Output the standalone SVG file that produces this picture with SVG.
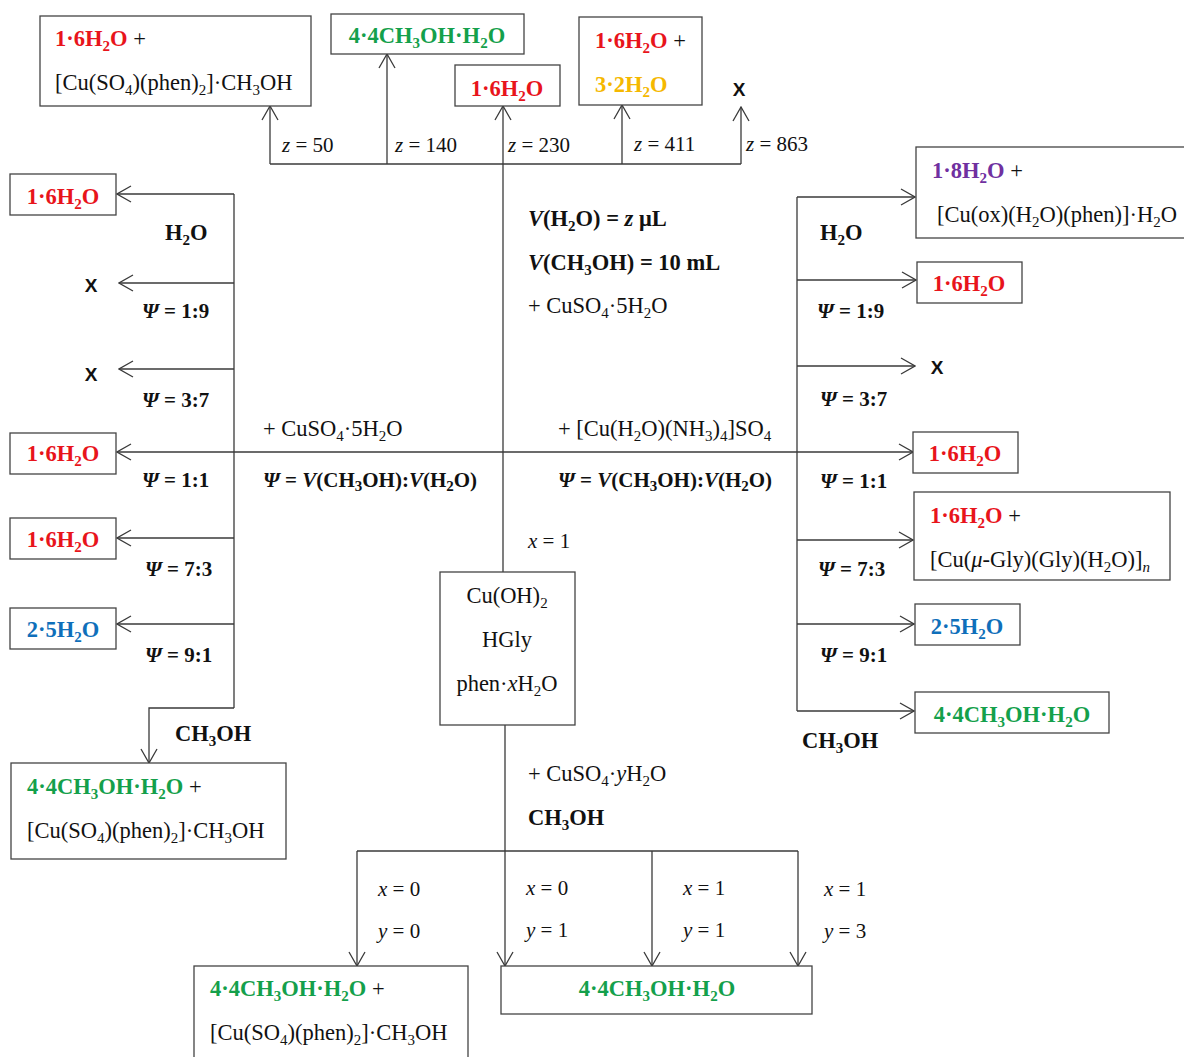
<svg xmlns="http://www.w3.org/2000/svg" width="1184" height="1057" viewBox="0 0 1184 1057">
<defs>
<style>
.t{font-family:"Liberation Serif","Times New Roman",serif;font-size:22.5px;fill:#111}
.l{font-size:21px}
.b{font-weight:bold}
.i{font-style:italic}
.r{fill:#e8141b}.g{fill:#14a04b}.bl{fill:#0f6fba}.p{fill:#7030a0}.y{fill:#f5b800}
.k{fill:#111;font-weight:normal}
.s{font-size:15px}
.x{font-family:"Liberation Sans",Arial,sans-serif;font-weight:bold;font-size:19px;fill:#111}
.m{text-anchor:middle}
.box{fill:#fff;stroke:#444;stroke-width:1.3}
.ln{fill:none;stroke:#3a3a3a;stroke-width:1.3}
.ar{fill:none;stroke:#3a3a3a;stroke-width:1.3;marker-end:url(#ah)}
</style>
<marker id="ah" viewBox="0 0 16 18" refX="15" refY="9" markerWidth="16" markerHeight="18" markerUnits="userSpaceOnUse" orient="auto">
<path d="M1,1 L15,9 L1,17" fill="none" stroke="#3a3a3a" stroke-width="1.3"/>
</marker>
</defs>
<rect width="1184" height="1057" fill="#fff"/>

<g id="connectors">
<path class="ln" d="M270,164 H741"/>
<path class="ar" d="M270,164 V106"/>
<path class="ar" d="M387,164 V54"/>
<path class="ar" d="M503,572 V106"/>
<path class="ar" d="M622,164 V105"/>
<path class="ar" d="M741,164 V107"/>
<path class="ar" d="M503,452 H117"/>
<path class="ar" d="M503,452 H913"/>
<path class="ln" d="M234,194 V708"/>
<path class="ar" d="M234,194 H117"/>
<path class="ar" d="M234,283 H119"/>
<path class="ar" d="M234,369 H119"/>
<path class="ar" d="M234,538 H117"/>
<path class="ar" d="M234,624 H117"/>
<path class="ar" d="M234,708 H149 V763"/>
<path class="ln" d="M797,197 V711"/>
<path class="ar" d="M797,197 H915"/>
<path class="ar" d="M797,280 H916"/>
<path class="ar" d="M797,366 H915"/>
<path class="ar" d="M797,540 H913"/>
<path class="ar" d="M797,624 H914"/>
<path class="ar" d="M797,711 H914"/>
<path class="ln" d="M505,725 V851"/>
<path class="ln" d="M357,851 H798"/>
<path class="ar" d="M357,851 V966"/>
<path class="ar" d="M505,851 V966"/>
<path class="ar" d="M652,851 V966"/>
<path class="ar" d="M798,851 V966"/>
</g>

<g id="top-z50">
<rect class="box" x="40" y="16" width="271" height="90"/>
<text class="t b r" x="55" y="46">1·6H<tspan class="s" dy="4.5">2</tspan><tspan dy="-4.5">O</tspan><tspan class="k"> +</tspan></text>
<text class="t" x="55" y="90">[Cu(SO<tspan class="s" dy="4.5">4</tspan><tspan dy="-4.5">)(phen)</tspan><tspan class="s" dy="4.5">2</tspan><tspan dy="-4.5">]·CH</tspan><tspan class="s" dy="4.5">3</tspan><tspan dy="-4.5">OH</tspan></text>
</g>
<g id="top-z140">
<rect class="box" x="331" y="14" width="193" height="40"/>
<text class="t b g m" x="427" y="43">4·4CH<tspan class="s" dy="4.5">3</tspan><tspan dy="-4.5">OH·H</tspan><tspan class="s" dy="4.5">2</tspan><tspan dy="-4.5">O</tspan></text>
</g>
<g id="top-z230">
<rect class="box" x="455" y="65" width="105" height="41"/>
<text class="t b r m" x="507" y="96">1·6H<tspan class="s" dy="4.5">2</tspan><tspan dy="-4.5">O</tspan></text>
</g>
<g id="top-z411">
<rect class="box" x="579" y="17" width="123" height="88"/>
<text class="t b r" x="595" y="48">1·6H<tspan class="s" dy="4.5">2</tspan><tspan dy="-4.5">O</tspan><tspan class="k"> +</tspan></text>
<text class="t b y" x="595" y="92">3·2H<tspan class="s" dy="4.5">2</tspan><tspan dy="-4.5">O</tspan></text>
</g>
<g id="top-z863">
<text class="x m" x="739" y="96">X</text>
</g>

<g id="labels-top">
<text class="t l" x="282" y="152"><tspan class="i">z</tspan> = 50</text>
<text class="t l" x="395" y="152"><tspan class="i">z</tspan> = 140</text>
<text class="t l" x="508" y="152"><tspan class="i">z</tspan> = 230</text>
<text class="t l" x="634" y="151"><tspan class="i">z</tspan> = 411</text>
<text class="t l" x="746" y="151"><tspan class="i">z</tspan> = 863</text>
<text class="t b" x="528" y="226"><tspan class="i">V</tspan>(H<tspan class="s" dy="4.5">2</tspan><tspan dy="-4.5">O) = </tspan><tspan class="i">z</tspan> μL</text>
<text class="t b" x="528" y="270"><tspan class="i">V</tspan>(CH<tspan class="s" dy="4.5">3</tspan><tspan dy="-4.5">OH) = 10 mL</tspan></text>
<text class="t" x="528" y="313">+ CuSO<tspan class="s" dy="4.5">4</tspan><tspan dy="-4.5">·5H</tspan><tspan class="s" dy="4.5">2</tspan><tspan dy="-4.5">O</tspan></text>
</g>

<g id="labels-mid">
<text class="t" x="263" y="436">+ CuSO<tspan class="s" dy="4.5">4</tspan><tspan dy="-4.5">·5H</tspan><tspan class="s" dy="4.5">2</tspan><tspan dy="-4.5">O</tspan></text>
<text class="t b l" x="263" y="487"><tspan class="i">Ψ</tspan> = <tspan class="i">V</tspan>(CH<tspan class="s" dy="4">3</tspan><tspan dy="-4">OH):</tspan><tspan class="i">V</tspan>(H<tspan class="s" dy="4">2</tspan><tspan dy="-4">O)</tspan></text>
<text class="t" x="558" y="436">+ [Cu(H<tspan class="s" dy="4.5">2</tspan><tspan dy="-4.5">O)(NH</tspan><tspan class="s" dy="4.5">3</tspan><tspan dy="-4.5">)</tspan><tspan class="s" dy="4.5">4</tspan><tspan dy="-4.5">]SO</tspan><tspan class="s" dy="4.5">4</tspan></text>
<text class="t b l" x="558" y="487"><tspan class="i">Ψ</tspan> = <tspan class="i">V</tspan>(CH<tspan class="s" dy="4">3</tspan><tspan dy="-4">OH):</tspan><tspan class="i">V</tspan>(H<tspan class="s" dy="4">2</tspan><tspan dy="-4">O)</tspan></text>
<text class="t l" x="528" y="548"><tspan class="i">x</tspan> = 1</text>
</g>

<g id="start">
<rect class="box" x="440" y="572" width="135" height="153"/>
<text class="t m" x="507" y="603">Cu(OH)<tspan class="s" dy="4.5">2</tspan></text>
<text class="t m" x="507" y="647">HGly</text>
<text class="t m" x="507" y="691">phen·<tspan class="i">x</tspan>H<tspan class="s" dy="4.5">2</tspan><tspan dy="-4.5">O</tspan></text>
</g>

<g id="left-h2o">
<rect class="box" x="10" y="174" width="106" height="41"/>
<text class="t b r m" x="63" y="204">1·6H<tspan class="s" dy="4.5">2</tspan><tspan dy="-4.5">O</tspan></text>
</g>
<g id="left-19"><text class="x m" x="91" y="292">X</text></g>
<g id="left-37"><text class="x m" x="91" y="381">X</text></g>
<g id="left-11">
<rect class="box" x="10" y="433" width="106" height="41"/>
<text class="t b r m" x="63" y="461">1·6H<tspan class="s" dy="4.5">2</tspan><tspan dy="-4.5">O</tspan></text>
</g>
<g id="left-73">
<rect class="box" x="10" y="518" width="106" height="41"/>
<text class="t b r m" x="63" y="547">1·6H<tspan class="s" dy="4.5">2</tspan><tspan dy="-4.5">O</tspan></text>
</g>
<g id="left-91">
<rect class="box" x="10" y="608" width="106" height="41"/>
<text class="t b bl m" x="63" y="637">2·5H<tspan class="s" dy="4.5">2</tspan><tspan dy="-4.5">O</tspan></text>
</g>
<g id="left-ch3oh">
<rect class="box" x="11" y="763" width="275" height="96"/>
<text class="t b g" x="27" y="794">4·4CH<tspan class="s" dy="4.5">3</tspan><tspan dy="-4.5">OH·H</tspan><tspan class="s" dy="4.5">2</tspan><tspan dy="-4.5">O</tspan><tspan class="k"> +</tspan></text>
<text class="t" x="27" y="838">[Cu(SO<tspan class="s" dy="4.5">4</tspan><tspan dy="-4.5">)(phen)</tspan><tspan class="s" dy="4.5">2</tspan><tspan dy="-4.5">]·CH</tspan><tspan class="s" dy="4.5">3</tspan><tspan dy="-4.5">OH</tspan></text>
</g>
<g id="labels-left">
<text class="t b" x="165" y="240">H<tspan class="s" dy="4.5">2</tspan><tspan dy="-4.5">O</tspan></text>
<text class="t b l" x="142" y="318"><tspan class="i">Ψ</tspan> = 1:9</text>
<text class="t b l" x="142" y="407"><tspan class="i">Ψ</tspan> = 3:7</text>
<text class="t b l" x="142" y="487"><tspan class="i">Ψ</tspan> = 1:1</text>
<text class="t b l" x="145" y="576"><tspan class="i">Ψ</tspan> = 7:3</text>
<text class="t b l" x="145" y="662"><tspan class="i">Ψ</tspan> = 9:1</text>
<text class="t b" x="175" y="741">CH<tspan class="s" dy="4.5">3</tspan><tspan dy="-4.5">OH</tspan></text>
</g>

<g id="right-h2o">
<rect class="box" x="916" y="147" width="272" height="91"/>
<text class="t b p" x="932" y="178">1·8H<tspan class="s" dy="4.5">2</tspan><tspan dy="-4.5">O</tspan><tspan class="k"> +</tspan></text>
<text class="t" x="937" y="222">[Cu(ox)(H<tspan class="s" dy="4.5">2</tspan><tspan dy="-4.5">O)(phen)]·H</tspan><tspan class="s" dy="4.5">2</tspan><tspan dy="-4.5">O</tspan></text>
</g>
<g id="right-19">
<rect class="box" x="917" y="262" width="105" height="41"/>
<text class="t b r m" x="969" y="291">1·6H<tspan class="s" dy="4.5">2</tspan><tspan dy="-4.5">O</tspan></text>
</g>
<g id="right-37"><text class="x m" x="937" y="374">X</text></g>
<g id="right-11">
<rect class="box" x="913" y="432" width="105" height="41"/>
<text class="t b r m" x="965" y="461">1·6H<tspan class="s" dy="4.5">2</tspan><tspan dy="-4.5">O</tspan></text>
</g>
<g id="right-73">
<rect class="box" x="914" y="492" width="256" height="88"/>
<text class="t b r" x="930" y="523">1·6H<tspan class="s" dy="4.5">2</tspan><tspan dy="-4.5">O</tspan><tspan class="k"> +</tspan></text>
<text class="t" x="930" y="567">[Cu(<tspan class="i">μ</tspan>-Gly)(Gly)(H<tspan class="s" dy="4.5">2</tspan><tspan dy="-4.5">O)]</tspan><tspan class="s i" dy="4.5">n</tspan></text>
</g>
<g id="right-91">
<rect class="box" x="915" y="604" width="105" height="41"/>
<text class="t b bl m" x="967" y="634">2·5H<tspan class="s" dy="4.5">2</tspan><tspan dy="-4.5">O</tspan></text>
</g>
<g id="right-ch3oh">
<rect class="box" x="915" y="692" width="194" height="41"/>
<text class="t b g m" x="1012" y="722">4·4CH<tspan class="s" dy="4.5">3</tspan><tspan dy="-4.5">OH·H</tspan><tspan class="s" dy="4.5">2</tspan><tspan dy="-4.5">O</tspan></text>
</g>
<g id="labels-right">
<text class="t b" x="820" y="240">H<tspan class="s" dy="4.5">2</tspan><tspan dy="-4.5">O</tspan></text>
<text class="t b l" x="817" y="318"><tspan class="i">Ψ</tspan> = 1:9</text>
<text class="t b l" x="820" y="406"><tspan class="i">Ψ</tspan> = 3:7</text>
<text class="t b l" x="820" y="488"><tspan class="i">Ψ</tspan> = 1:1</text>
<text class="t b l" x="818" y="576"><tspan class="i">Ψ</tspan> = 7:3</text>
<text class="t b l" x="820" y="662"><tspan class="i">Ψ</tspan> = 9:1</text>
<text class="t b" x="802" y="748">CH<tspan class="s" dy="4.5">3</tspan><tspan dy="-4.5">OH</tspan></text>
</g>

<g id="labels-bottom">
<text class="t" x="528" y="781">+ CuSO<tspan class="s" dy="4.5">4</tspan><tspan dy="-4.5">·</tspan><tspan class="i">y</tspan>H<tspan class="s" dy="4.5">2</tspan><tspan dy="-4.5">O</tspan></text>
<text class="t b" x="528" y="825">CH<tspan class="s" dy="4.5">3</tspan><tspan dy="-4.5">OH</tspan></text>
<text class="t l" x="378" y="896"><tspan class="i">x</tspan> = 0</text>
<text class="t l" x="378" y="938"><tspan class="i">y</tspan> = 0</text>
<text class="t l" x="526" y="895"><tspan class="i">x</tspan> = 0</text>
<text class="t l" x="526" y="937"><tspan class="i">y</tspan> = 1</text>
<text class="t l" x="683" y="895"><tspan class="i">x</tspan> = 1</text>
<text class="t l" x="683" y="937"><tspan class="i">y</tspan> = 1</text>
<text class="t l" x="824" y="896"><tspan class="i">x</tspan> = 1</text>
<text class="t l" x="824" y="938"><tspan class="i">y</tspan> = 3</text>
</g>
<g id="bottom-x0y0">
<rect class="box" x="194" y="966" width="274" height="96"/>
<text class="t b g" x="210" y="996">4·4CH<tspan class="s" dy="4.5">3</tspan><tspan dy="-4.5">OH·H</tspan><tspan class="s" dy="4.5">2</tspan><tspan dy="-4.5">O</tspan><tspan class="k"> +</tspan></text>
<text class="t" x="210" y="1040">[Cu(SO<tspan class="s" dy="4.5">4</tspan><tspan dy="-4.5">)(phen)</tspan><tspan class="s" dy="4.5">2</tspan><tspan dy="-4.5">]·CH</tspan><tspan class="s" dy="4.5">3</tspan><tspan dy="-4.5">OH</tspan></text>
</g>
<g id="bottom-other">
<rect class="box" x="501" y="966" width="311" height="48"/>
<text class="t b g m" x="657" y="996">4·4CH<tspan class="s" dy="4.5">3</tspan><tspan dy="-4.5">OH·H</tspan><tspan class="s" dy="4.5">2</tspan><tspan dy="-4.5">O</tspan></text>
</g>
</svg>
